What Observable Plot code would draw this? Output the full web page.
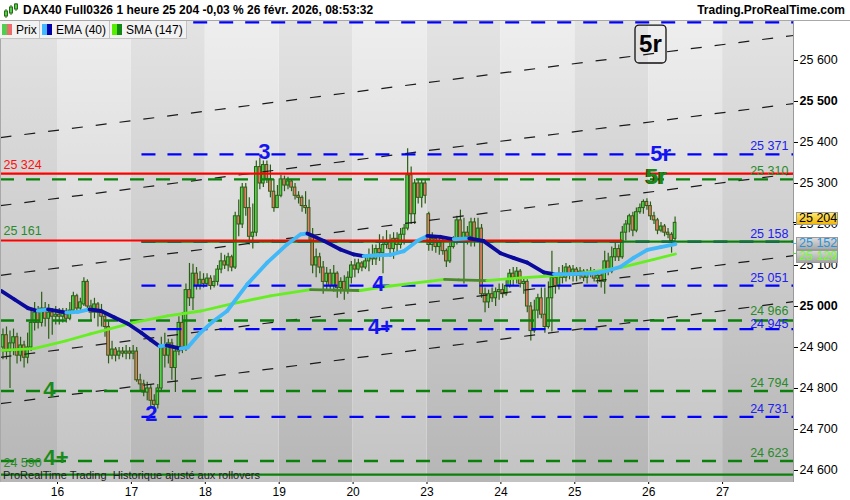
<!DOCTYPE html>
<html><head><meta charset="utf-8">
<script src="https://cdn.jsdelivr.net/npm/d3@7"></script>
<script src="https://cdn.jsdelivr.net/npm/@observablehq/plot@0.6"></script>
<style>
body{margin:0;background:#fff;font-family:"Liberation Sans",Arial,sans-serif;}
#wrap{position:relative;width:850px;height:500px;overflow:hidden;background:#fff;}
#chart{position:absolute;left:0;top:20px;}
#header{position:absolute;left:0;top:0;width:850px;height:20px;background:#fff;border-bottom:1px solid #a8a8a8;z-index:2;}
#title{position:absolute;left:23px;top:3px;font-weight:bold;font-size:12px;color:#000;white-space:pre;}
#brand{position:absolute;right:5px;top:3px;font-weight:bold;font-size:12px;color:#000;}
#icon{position:absolute;left:3px;top:2px;}
#legend{position:absolute;left:0;top:21px;height:18px;display:flex;z-index:2;}
.li{height:18px;background:#f2f2f2;border-right:1px solid #c4c4c4;border-bottom:1px solid #c4c4c4;display:flex;align-items:center;font-size:12px;color:#000;box-sizing:border-box;padding-left:2px;}
.ic{width:5px;height:11px;display:inline-block;}
#caption{position:absolute;left:3px;top:469.5px;font-size:11px;line-height:11px;color:#222;white-space:pre;z-index:2;}
.tag{position:absolute;left:796px;width:42px;height:13px;box-sizing:border-box;border:1px solid #9a9a9a;font-size:12.5px;line-height:11px;padding-left:2px;white-space:pre;z-index:3;}
.tick{position:absolute;left:793px;width:4px;height:1px;z-index:3;}
</style></head>
<body><div id="wrap">
<div id="chart"></div>
<div id="header">
<svg id="icon" width="16" height="17"><line x1="3" y1="7" x2="3" y2="16" stroke="#2b6a14"/><rect x="1.5" y="9" width="3" height="5" fill="#4fd04f" stroke="#2b6a14"/><line x1="8" y1="3" x2="8" y2="13" stroke="#2b6a14"/><rect x="6.5" y="5" width="3" height="6" fill="#4fd04f" stroke="#2b6a14"/><line x1="13" y1="1" x2="13" y2="9" stroke="#2b6a14"/><rect x="11.5" y="2" width="3" height="5" fill="#4fd04f" stroke="#2b6a14"/></svg>
<div id="title"></div>
<div id="brand">Trading.ProRealTime.com</div>
</div>
<div id="legend"></div>
<div id="caption"></div>
</div>
<script>
// ---------- texts ----------
const titleText = "DAX40 Full0326 1 heure 25 204 -0,03 % 26 févr. 2026, 08:53:32";
const captionText = "ProRealTime Trading  Historique ajusté aux rollovers";
const legendNames = ["Prix", "EMA (40)", "SMA (147)"];

// ---------- x axis (hourly bars, 21 per day) ----------
const dayLabels = ["16","17","18","19","20","23","24","25","26","27"];
const dayStarts = [16,37,58,79,100,121,142,163,184,205];
const bandStarts = [-0.2,16,37,58,79,100,121,142,163,184,205];
const bandEnds   = [16,37,58,79,100,121,142,163,184,205,225.15];

// ---------- candles (hourly OHLC) ----------
const opens = [
24900,24930,24890,24910,24925,24880,24905,24875,24900,24960,24985,24960,24995,24970,24985,24975,
24980,24975,24985,24970,24990,25025,24995,25005,25060,25000,24985,25005,24985,24975,24950,24880,24895,24880,24890,24885,24890,
24885,24890,24820,24810,24790,24800,24770,24760,24800,24900,24880,24910,24850,24890,24960,24900,25040,25020,25080,25050,25065,
25055,25068,25050,25060,25090,25110,25100,25120,25095,25220,25200,25290,25240,25170,25180,25340,25300,25345,25310,25280,25240,
25270,25310,25295,25305,25290,25270,25265,25245,25240,25175,25100,25120,25095,25060,25080,25050,25080,25045,25060,25040,25070,
25100,25090,25105,25095,25110,25125,25115,25140,25130,25150,25160,25140,25165,25150,25175,25190,25320,25225,25300,25265,25300,
25225,25150,25165,25145,25160,25135,25110,25145,25160,25210,25165,25180,25170,25205,25160,25190,25030,25010,25030,25020,25035,
25040,25030,25050,25080,25070,25085,25055,25060,25000,24940,24990,25020,24980,24950,25020,25070,25050,25080,25070,25095,25075,
25090,25075,25085,25070,25080,25085,25068,25075,25060,25110,25085,25120,25140,25120,25180,25200,25220,25185,25230,25240,25255,
25245,25220,25210,25185,25195,25180,25175,25165];
const highs = [
24945,24950,24940,24945,24935,24925,24915,24935,24990,25010,25000,25035,25010,25005,24995,25000,
24995,24995,24995,25010,25035,25030,25020,25070,25065,25015,25020,25010,25005,24985,24965,24915,24900,24900,24900,24905,24900,
24905,24900,24835,24820,24815,24810,24785,24810,24925,24935,24920,24920,24900,24975,24985,25055,25105,25103,25095,25085,25080,
25080,25075,25075,25100,25130,25125,25130,25125,25230,25260,25300,25300,25265,25250,25355,25362,25355,25355,25345,25310,25295,
25320,25318,25315,25310,25300,25280,25270,25280,25260,25190,25140,25130,25110,25095,25090,25100,25085,25070,25075,25085,25110,
25115,25115,25110,25120,25140,25150,25150,25175,25170,25185,25175,25180,25180,25190,25200,25385,25340,25310,25310,25310,25310,
25230,25180,25170,25165,25165,25140,25155,25170,25220,25235,25215,25195,25215,25215,25215,25200,25045,25040,25045,25045,25055,
25055,25065,25090,25095,25095,25090,25070,25065,25010,25015,25030,25045,25045,25060,25135,25080,25095,25100,25105,25100,25100,
25095,25095,25090,25090,25095,25090,25085,25085,25135,25130,25145,25155,25150,25195,25210,25225,25230,25240,25250,25260,25263,
25255,25230,25215,25205,25200,25190,25180,25218];
const lows = [
24870,24870,24800,24880,24860,24865,24850,24860,24890,24940,24945,24950,24950,24920,24930,24955,
24955,24960,24960,24965,24985,24985,24985,25000,24990,24965,24970,24950,24950,24925,24860,24870,24865,24870,24875,24870,24870,
24870,24815,24795,24780,24770,24755,24740,24750,24795,24850,24860,24820,24790,24880,24885,24890,25000,24990,25040,25040,25045,
25050,25040,25045,25050,25080,25090,25085,25085,25090,25170,25190,25220,25150,25140,25170,25285,25290,25300,25265,25230,25240,
25265,25280,25285,25280,25260,25250,25230,25225,25160,25080,25070,25080,25030,25040,25040,25035,25020,25030,25015,25030,25055,
25070,25080,25085,25090,25085,25100,25100,25110,25080,25140,25120,25115,25130,25140,25150,25185,25200,25200,25250,25240,25250,
25135,25135,25130,25125,25125,25095,25105,25140,25150,25155,25055,25150,25145,25145,25155,25020,24985,24995,25010,25000,25015,
25020,25025,25045,25050,25055,25045,25030,24985,24916,24935,24970,24970,24935,24945,24938,25030,25040,25055,25060,25065,25060,
25060,25065,25060,25055,25070,25060,25055,25045,25030,25075,25080,25110,25110,25115,25160,25180,25170,25180,25225,25225,25235,
25210,25200,25175,25180,25170,25165,25130,25160];
const closes = [
24930,24890,24910,24925,24880,24905,24875,24900,24960,24985,24960,24995,24970,24985,24975,24980,
24975,24985,24970,24990,25025,24995,25010,25060,25000,24985,25005,24985,24975,24950,24880,24895,24880,24890,24885,24890,24885,
24890,24820,24810,24790,24800,24770,24760,24800,24900,24880,24910,24850,24890,24960,24900,25040,25020,25080,25050,25065,25055,
25068,25050,25060,25090,25110,25100,25120,25095,25220,25200,25290,25240,25170,25180,25340,25300,25345,25310,25280,25240,25270,
25310,25295,25305,25290,25270,25265,25245,25240,25175,25100,25120,25095,25060,25080,25050,25080,25045,25060,25040,25070,25100,
25090,25105,25095,25110,25125,25115,25140,25130,25150,25160,25140,25165,25150,25175,25190,25320,25225,25300,25265,25300,25270,
25150,25165,25145,25160,25135,25110,25145,25160,25210,25165,25180,25170,25205,25160,25190,25030,25010,25030,25020,25035,25040,
25030,25050,25080,25070,25085,25055,25060,25000,24940,24990,25020,24980,24950,25020,25070,25050,25080,25070,25095,25075,25090,
25075,25085,25070,25080,25085,25068,25075,25060,25110,25085,25120,25140,25120,25180,25200,25220,25185,25230,25240,25255,25245,
25220,25210,25185,25195,25180,25175,25160,25204];

// ---------- indicators ----------
const emaBars = [0,3.8,7.6,10.4,13.3,18.5,21.8,25.1,28.4,32.2,36,39.8,42.6,45,47,51,53,56.6,60,64.2,69.9,75.6,81.3,85.1,87,91.7,96.4,100.2,103,106.8,110.6,114.4,118.2,121.1,124.8,128.6,133,137,141.9,145.7,149.5,154.2,157.1,161.8,168.4,172.2,176,179.8,183.6,187.4,191.6];
const emaVals = [25038,25017,24996,24989,24993,24985,24987,24993,24989,24973,24958,24936,24918,24903,24905,24897,24900,24936,24962,24989,25054,25107,25152,25176,25178,25160,25139,25127,25123,25125,25126,25135,25160,25172,25170,25164,25166,25160,25130,25118,25107,25083,25079,25079,25081,25087,25097,25119,25138,25145,25152];
const smaBars = [0,9.3,18.7,25.4,28.4,37.9,47.3,56.8,65.2,76.5,87.9,95,102,110.6,122,126,130,138,147.6,157.1,166.6,176,185.5,191.6];
const smaVals = [24893,24897,24917,24933,24940,24961,24977,24989,25006,25026,25041,25040,25039,25050,25062,25066,25065,25063,25070,25075,25083,25095,25115,25128];

// ---------- drawn levels ----------
const blueLevels = [25693,25371,25158,25051,24945,24731];
const blueStarts = [54.7,40,40,40,40,40];
const greenDashLevels = [24623,24794,24966,25310];
const redLevels = [25324,25161];
const redEnds = [225.15,176.6];
const greenSolidLevels = [25158,24590];
const greenSolidStarts = [40,-0.2];
const rightLabelValues = [25371,25310,25158,25051,24966,24945,24794,24731,24623];
const rightLabelBlue = [true,false,true,true,false,true,false,true,false];
const leftLabelValues = [25324,25161,24590];
const leftLabelColors = ["#ff1010","#2a8a2a","#2a8a2a"];
const diagStart = [25412,25246,25076,24876,24763];
const diagEnd   = [25661,25495,25324,25124,25012];

// ---------- wave labels ----------
const waveText  = ["3","2","4","4+","5r","4","4+"];
const waveBar   = [74.8,42.7,107.2,107.8,187.4,13.7,15.6];
const wavePrice = [25378,24739,25054,24949,25373,24797,24630];
const waveBlue  = [true,true,true,true,true,false,false];
const green5rBar = 186.2, green5rPrice = 25315;
const boxLabel = "5r", boxBar = [180.25,189.06], boxPrice = [25592.6,25685], boxTextAt = [184.5,25639];

// ---------- right axis ----------
const axisTicks = [24600,24700,24800,24900,25000,25100,25200,25300,25400,25500,25600];
const boldTicks = [25000,25500];
const lastPrice = 25204, lastEma = 25152, lastSma = 25129;

const fmt = v => d3.format(",")(v).replace(/,/g, " ");
const X0 = -0.2, X1 = 225.15;
const BLUE = "#0000ff", GREEN = "#0b800b", RED = "#ff0000";

document.getElementById("title").textContent = titleText;
document.getElementById("caption").textContent = captionText;
const legIcons = [["#4fcf4f","#ee6b6b"],["#41b8ff","#0000a8"],["#55ee00","#118811"]];
const legWidths = [40,70,77];
const leg = document.getElementById("legend");
legendNames.forEach((n,k)=>{
  const d = document.createElement("div"); d.className="li"; d.style.width=legWidths[k]+"px";
  d.innerHTML = `<span class="ic" style="background:${legIcons[k][0]}"></span><span class="ic" style="background:${legIcons[k][1]};margin-right:4px"></span>${n}`;
  leg.appendChild(d);
});

const candles = closes.map((c,i)=>({i, o:opens[i], h:highs[i], l:lows[i], c}));
const bands = bandStarts.map((s,k)=>({x1:s, x2:bandEnds[k], dark:k%2===0}));
const seg = (bs, vs) => bs.slice(1).map((b,k)=>({x1:bs[k], y1:vs[k], x2:b, y2:vs[k+1], up: vs[k+1] >= vs[k]}));
const emaSegs = seg(emaBars, emaVals);
const smaSegs = seg(smaBars, smaVals);
const blues = blueLevels.map((v,k)=>({v, x1:blueStarts[k], x2:X1}));
const greensD = greenDashLevels.map(v=>({v, x1:X0, x2:X1}));
const reds = redLevels.map((v,k)=>({v, x1:X0, x2:redEnds[k]}));
const greensS = greenSolidLevels.map((v,k)=>({v, x1:greenSolidStarts[k], x2:X1}));
const rightLabels = rightLabelValues.map((v,k)=>({v, t:fmt(v), c: rightLabelBlue[k] ? "#2020f0" : "#2a8a2a"}));
const leftLabels = leftLabelValues.map((v,k)=>({v, t:fmt(v), c:leftLabelColors[k]}));
const diags = diagStart.map((s,k)=>({y1:s, y2:diagEnd[k]}));
const waves = waveText.map((t,k)=>({t, x:waveBar[k], y:wavePrice[k], c: waveBlue[k] ? "#1414f0" : "#1a8a1a"}));

const chart = Plot.plot({
  width: 850, height: 480,
  marginTop: 1, marginBottom: 18, marginLeft: 0, marginRight: 57,
  x: {domain: [X0, X1]},
  y: {domain: [24570.7, 25695.1]},
  color: {type: "identity"},
  style: {fontFamily: "Liberation Sans, Arial, sans-serif", fontSize: "12px", background: "transparent", overflow: "visible"},
  marks: [
    Plot.rect(bands.filter(d=>d.dark), {x1:"x1", x2:"x2", fill:"url(#gDark)"}),
    Plot.rect(bands.filter(d=>!d.dark), {x1:"x1", x2:"x2", fill:"url(#gLight)"}),
    // candles
    Plot.ruleX(candles, {x: d=>d.i+0.5, y1:"l", y2:"h", stroke:"#2b5e14", strokeWidth:1.2}),
    Plot.rect(candles, {x1: d=>d.i+0.12, x2: d=>d.i+0.88, y1:"o", y2:"c",
      fill: d=> d.c >= d.o ? "#52d24a" : "#e97b66", stroke:"#2b5e14", strokeWidth:1}),
    // channel lines
    Plot.link(diags, {x1: X0, x2: X1, y1:"y1", y2:"y2", stroke:"#1a1a1a", strokeWidth:1.2, strokeDasharray:"11,13"}),
    // levels
    Plot.ruleY(blues, {y:"v", x1:"x1", x2:"x2", stroke:BLUE, strokeWidth:2.2, strokeDasharray:"14,12"}),
    Plot.ruleY(greensS, {y:"v", x1:"x1", x2:"x2", stroke:GREEN, strokeWidth:2.2}),
    Plot.ruleY(greensD, {y:"v", x1:"x1", x2:"x2", stroke:GREEN, strokeWidth:2.4, strokeDasharray:"14,12"}),
    Plot.ruleY(reds, {y:"v", x1:"x1", x2:"x2", stroke:RED, strokeWidth:2.2}),
    // indicators
    Plot.link(smaSegs, {x1:"x1", y1:"y1", x2:"x2", y2:"y2", stroke: d=> d.up ? "#66ee22" : "#4a8a2a", strokeWidth:2.8, strokeLinecap:"round"}),
    Plot.link(emaSegs, {x1:"x1", y1:"y1", x2:"x2", y2:"y2", stroke: d=> d.up ? "#41b8f8" : "#0a0a9c", strokeWidth:3.8, strokeLinecap:"round"}),
    // level labels
    Plot.text(rightLabels.filter(d=>d.v!==24966 && d.v!==24945), {x: 223.7, y:"v", text:"t", fill:"c", textAnchor:"end", dy:-8, fontSize:12.5}),
    Plot.text(rightLabels.filter(d=>d.v===24966), {x: 223.7, y:"v", text:"t", fill:"c", textAnchor:"end", dy:-9.5, fontSize:12.5}),
    Plot.text(rightLabels.filter(d=>d.v===24945), {x: 223.7, y:"v", text:"t", fill:"c", textAnchor:"end", dy:-5.5, fontSize:12.5}),
    Plot.text(leftLabels.slice(0,2), {x: 0.65, y:"v", text:"t", fill:"c", textAnchor:"start", dy:-9, fontSize:12.5}),
    Plot.text(leftLabels.slice(2), {x: 0.65, y:"v", text:"t", fill:"c", textAnchor:"start", dy:-11.5, fontSize:12.5}),
    // wave labels
    Plot.text(waves, {x:"x", y:"y", text:"t", fill:"c", fontSize:22, fontWeight:"bold"}),
    Plot.text([boxLabel], {x: green5rBar, y: green5rPrice, text: d=>d, fill:"#3a3a00", fontSize:22, fontWeight:"bold", dx:-1.5}),
    Plot.text([boxLabel], {x: green5rBar, y: green5rPrice, text: d=>d, fill:"#1a8a1a", fontSize:22, fontWeight:"bold"}),
    Plot.rect([0], {x1: boxBar[0], x2: boxBar[1], y1: boxPrice[0], y2: boxPrice[1], fill:"none", stroke:"#111", strokeWidth:1.3, rx:4}),
    Plot.text([boxLabel], {x: boxTextAt[0], y: boxTextAt[1], text: d=>d, fill:"#000", fontSize:24, fontWeight:"bold"}),
    // frame edges
    Plot.ruleX([X1], {stroke:"#9a9a9a", strokeWidth:1}),
    Plot.ruleX([X0], {stroke:"#a8a8a8", strokeWidth:1}),
    // axes
    Plot.axisY({anchor:"right", ticks: axisTicks.filter(t=>!boldTicks.includes(t)), tickFormat: fmt, tickSize:4, tickPadding:2, fontSize:12.5, color:"#000", label:null}),
    Plot.axisY({anchor:"right", ticks: boldTicks, tickFormat: fmt, tickSize:4, tickPadding:2, fontSize:12.5, fontWeight:"bold", color:"#000", label:null}),
    Plot.axisX({ticks: dayStarts, tickFormat: d => dayLabels[dayStarts.indexOf(d)], tickSize:2, tickPadding:3, fontSize:12, color:"#000", label:null})
  ]
});
document.getElementById("chart").appendChild(chart);

// gradients for the background bands
const svg = d3.select(chart);
const defs = svg.insert("defs", ":first-child");
const grad = (id, top, bottom) => {
  const g = defs.append("linearGradient").attr("id", id).attr("x1",0).attr("y1",0).attr("x2",0).attr("y2",1);
  g.append("stop").attr("offset","0%").attr("stop-color", top);
  g.append("stop").attr("offset","100%").attr("stop-color", bottom);
};
grad("gLight", "#eeeeee", "#c3c3c3");
grad("gDark", "#e3e3e3", "#b6b6b6");

// current value tags on the price axis (positioned with the plot's y scale)
const ys = chart.scale("y");
const wrap = document.getElementById("wrap");
const tags = [
  {v:lastPrice, bg:"linear-gradient(#ffe76e,#f2b70a)", text:"#000", tick:"#000", off:-3.8},
  {v:lastEma, bg:"linear-gradient(#dcdcdc,#a8a8a8)", text:"#2a92d8", tick:"#41b8f8", off:0},
  {v:lastSma, bg:"linear-gradient(#d6d6d6,#a4a4a4)", text:"#6cff2a", tick:"#55dd22", off:3.4}
];
tags.forEach(t=>{
  const y = 20 + ys.apply(t.v);
  const tk = document.createElement("div"); tk.className = "tick";
  tk.style.top = (y - 0.5) + "px"; tk.style.background = t.tick; wrap.appendChild(tk);
  const d = document.createElement("div"); d.className = "tag";
  d.style.top = (y + t.off - 6.5) + "px"; d.style.background = t.bg; d.style.color = t.text;
  d.textContent = fmt(t.v); wrap.appendChild(d);
});
</script>
</body></html>
